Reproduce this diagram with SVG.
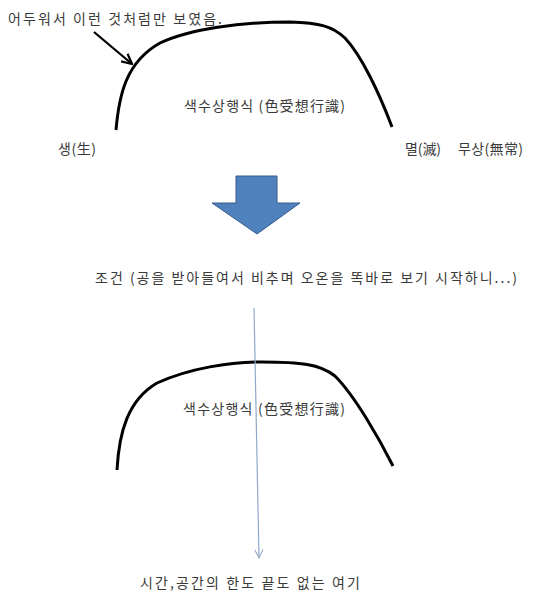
<svg xmlns="http://www.w3.org/2000/svg" width="550" height="606" viewBox="0 0 550 606">
<defs>
<marker id="openBlack" viewBox="0 0 12 12" refX="11" refY="6" markerWidth="12" markerHeight="12" markerUnits="userSpaceOnUse" orient="auto">
<path d="M1,1 L11,6 L1,11" fill="none" stroke="#000" stroke-width="2.2"/>
</marker>
<marker id="openBlue" viewBox="0 0 12 12" refX="11" refY="6" markerWidth="10" markerHeight="10" markerUnits="userSpaceOnUse" orient="auto">
<path d="M1,1 L11,6 L1,11" fill="none" stroke="#8FA8C8" stroke-width="1.2"/>
</marker>
</defs>
<style>
text{font-family:"Noto Sans CJK KR","Noto Sans",sans-serif;font-size:14px;fill:#3a3a3a}
.curve{fill:none;stroke:#000;stroke-width:3;stroke-linecap:butt}
</style>
<rect width="550" height="606" fill="#fff"/>
<g id="top-curve">
<path class="curve" d="M116,130 C119,95 126,62 160,43 C190,29 240,22 290,22 C320,23 332,26 345,38 C362,56 380,95 392,127"/>
</g>
<g id="caption-top">
<text x="8" y="24" textLength="214" lengthAdjust="spacing">어두워서 이런 것처럼만 보였음.</text>
</g>
<g id="label-top">
<text x="184" y="111" textLength="161" lengthAdjust="spacing">색수상행식 (色受想行識)</text>
</g>
<g id="label-birth">
<text x="58" y="154" textLength="38" lengthAdjust="spacing">생(生)</text>
</g>
<g id="label-death">
<text x="405" y="154" textLength="36" lengthAdjust="spacing">멸(滅)</text>
</g>
<g id="label-impermanence">
<text x="458" y="154" textLength="65" lengthAdjust="spacing">무상(無常)</text>
</g>
<g id="block-arrow">
<path d="M236,176 L277,176 L277,203 L300,203 L257,234 L212,203 L236,203 Z" fill="#4F81BD" stroke="#385D8A" stroke-width="1"/>
</g>
<g id="condition">
<text x="95" y="283" textLength="422" lengthAdjust="spacing">조건 (공을 받아들여서 비추며 오온을 똑바로 보기 시작하니...)</text>
</g>
<g id="bottom-curve">
<path class="curve" d="M117,470 C119,432 128,400 157,383 C190,368 230,362 262,362 C300,362 320,364 335,376 C355,396 380,440 393,466"/>
</g>
<g id="label-bottom">
<text x="183" y="414" textLength="162" lengthAdjust="spacing">색수상행식 (色受想行識)</text>
</g>
<g id="here">
<text x="140" y="588" textLength="220" lengthAdjust="spacing">시간,공간의 한도 끝도 없는 여기</text>
</g>
<g id="connectors">
<line x1="94" y1="32" x2="132" y2="64" stroke="#000" stroke-width="2.2" marker-end="url(#openBlack)"/>
<line x1="254" y1="308" x2="259" y2="558" stroke="#8FA8C8" stroke-width="1.2" marker-end="url(#openBlue)"/>
</g>
</svg>
